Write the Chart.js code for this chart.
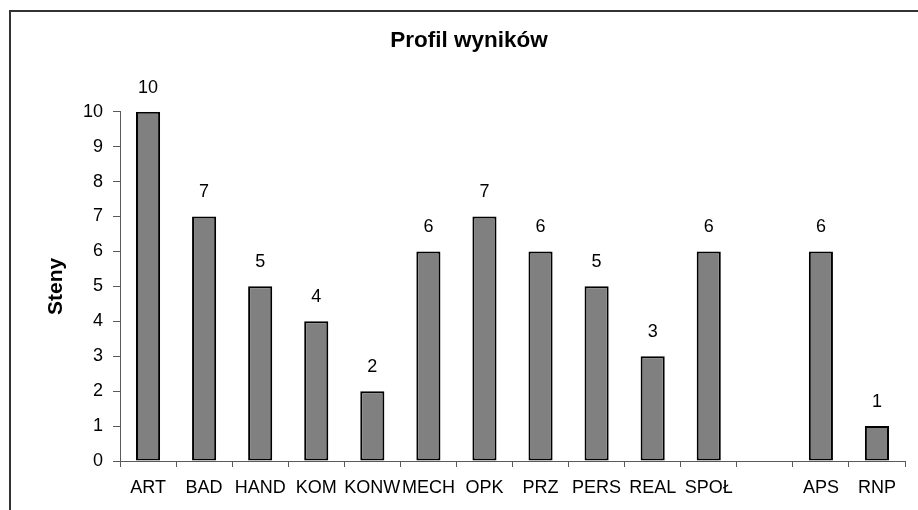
<!DOCTYPE html>
<html>
<head>
<meta charset="utf-8">
<script src="https://cdn.jsdelivr.net/npm/chart.js@4"></script>
<style>
  html, body { margin: 0; padding: 0; background: #fff; }
  canvas { display: block; }
</style>
</head>
<body>
<canvas id="chart" width="918" height="510"></canvas>
<script>
const categories = ['ART', 'BAD', 'HAND', 'KOM', 'KONW', 'MECH', 'OPK', 'PRZ', 'PERS', 'REAL', 'SPOŁ', '', 'APS', 'RNP'];
const steny = [10, 7, 5, 4, 2, 6, 7, 6, 5, 3, 6, null, 6, 1];
const yTicks = [0, 1, 2, 3, 4, 5, 6, 7, 8, 9, 10];

const FONT = '"Liberation Sans", Arial, sans-serif';
const AXIS = '#5a5a5a';

// frame lines (left + top) and value labels over the bars
const extras = {
  id: 'extras',
  beforeDraw(chart) {
    const ctx = chart.ctx;
    ctx.save();
    ctx.strokeStyle = '#333';
    ctx.lineWidth = 2;
    ctx.beginPath();
    ctx.moveTo(10, 10);
    ctx.lineTo(10, 510);
    ctx.moveTo(9, 11);
    ctx.lineTo(918, 11);
    ctx.stroke();
    ctx.restore();
  },
  afterDatasetsDraw(chart) {
    const ctx = chart.ctx;
    const meta = chart.getDatasetMeta(0);
    ctx.save();
    ctx.font = '18px ' + FONT;
    ctx.fillStyle = '#000';
    ctx.textAlign = 'center';
    ctx.textBaseline = 'middle';
    meta.data.forEach((bar, i) => {
      if (steny[i] == null) return;
      ctx.fillText(String(steny[i]), bar.x, bar.y - 24);
    });
    ctx.restore();
  }
};

new Chart(document.getElementById('chart'), {
  type: 'bar',
  data: {
    labels: categories,
    datasets: [{
      data: steny,
      backgroundColor: '#808080',
      borderColor: '#000',
      borderWidth: 2,
      borderSkipped: false,
      categoryPercentage: 1,
      barPercentage: 0.43
    }]
  },
  options: {
    responsive: false,
    animation: false,
    devicePixelRatio: 1,
    layout: { padding: { left: 33, right: 13, top: 0, bottom: 0 } },
    plugins: {
      legend: { display: false },
      tooltip: { enabled: false },
      title: {
        display: true,
        text: 'Profil wyników',
        color: '#000',
        font: { family: FONT, size: 22.5, weight: 'bold', lineHeight: 1.2 },
        padding: { top: 27, bottom: 57.7 }
      }
    },
    scales: {
      x: {
        afterFit(scale) { scale.height = 49; },
        grid: { display: true, drawOnChartArea: false, tickLength: 6, color: AXIS, offset: true },
        border: { display: true, color: AXIS, width: 1 },
        ticks: {
          autoSkip: false,
          maxRotation: 0,
          padding: 10,
          color: '#000',
          font: { family: FONT, size: 18 }
        }
      },
      y: {
        min: 0,
        max: 10,
        afterFit(scale) { scale.width = 87; },
        afterBuildTicks(scale) { scale.ticks = yTicks.map(v => ({ value: v })); },
        grid: { display: true, drawOnChartArea: false, tickLength: 7, color: AXIS },
        border: { display: true, color: AXIS, width: 1 },
        ticks: {
          padding: 10,
          color: '#000',
          font: { family: FONT, size: 18 }
        },
        title: {
          display: true,
          text: 'Steny',
          color: '#000',
          font: { family: FONT, size: 21, weight: 'bold', lineHeight: 1.2 },
          padding: { top: 10.4, bottom: 0 }
        }
      }
    }
  },
  plugins: [extras]
});
</script>
</body>
</html>
